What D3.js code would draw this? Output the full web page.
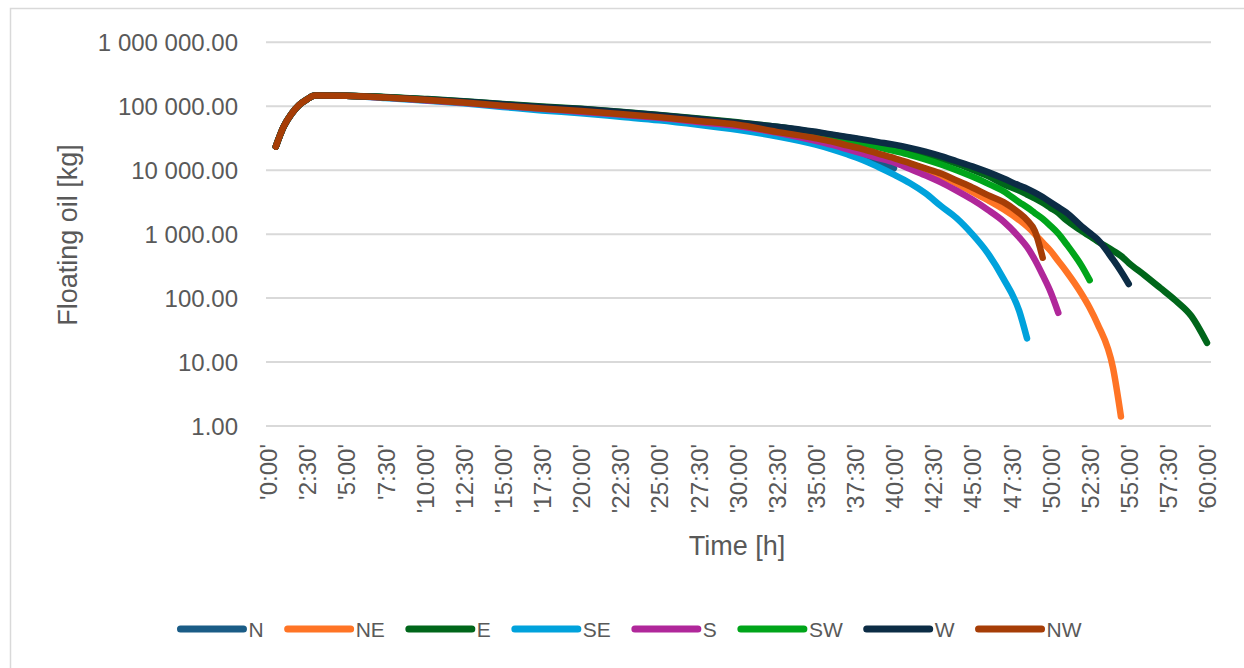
<!DOCTYPE html>
<html>
<head>
<meta charset="utf-8">
<script src="https://cdn.jsdelivr.net/npm/d3@7/dist/d3.min.js"></script>
<style>
  html, body { margin: 0; padding: 0; background: #ffffff; }
  svg { display: block; font-family: "Liberation Sans", Arial, sans-serif; }
</style>
</head>
<body>
<svg id="chart" width="1244" height="668"></svg>
<script>
// ---- DATA (time in hours, floating oil in kg) ----
const hours = [0.5, 1, 1.5, 2, 2.5, 3, 5, 7.5, 10, 12.5, 15, 17.5, 20, 22.5, 25, 27.5, 30, 32.5, 35, 36, 37, 38, 39, 40, 41, 42, 43, 44, 45, 46, 47, 48, 48.5, 49, 49.5, 50, 50.5, 51, 52, 52.5, 53, 54, 54.5, 55, 56, 57, 58, 59, 60];

const seriesNames = ["N", "NE", "E", "SE", "S", "SW", "W", "NW"];
const seriesColors = ["#1a5c86", "#ff7425", "#00661a", "#00a2dc", "#b0279a", "#00a51a", "#0c2c45", "#a63d06"];

const valN  = [23400, 47900, 75900, 104700, 128800, 147900, 146200, 138000, 127400, 116100, 104700, 94400, 86100, 77600, 69200, 60300, 52500, 43700, 34700, 30200, 23400, 17800, 13200, 10700,
  null, null, null, null, null, null, null, null, null, null, null, null, null, null, null, null, null, null, null, null, null, null, null, null, null];
const valNE = [23400, 47900, 75900, 104700, 128800, 147900, 146200, 136500, 125900, 114800, 102300, 92300, 83200, 75000, 66800, 58200, 50100, 38900, 30200, 26900, 23400, 20400, 17800, 15100,
  12600, 10200, 8130, 6170, 4570, 3390, 2450, 1660, 1320, 1000, 741, 550, 380, 263, 115, 70.8, 39.8, 7.94, 1.41, null, null, null, null, null, null];
const valE  = [23400, 47900, 75900, 104700, 128800, 147900, 146200, 139600, 130300, 120200, 108400, 98900, 91200, 82200, 73300, 64600, 56200, 47900, 38900, 35500, 32400, 29500, 26300, 23400,
  20400, 17800, 15100, 12600, 10200, 8130, 6030, 4790, 4170, 3630, 3090, 2570, 2140, 1660, 1120, 933, 776, 550, 457, 355, 229, 145, 91.2, 52.5, 20.0];
const valSE = [23400, 47900, 75900, 104700, 128800, 147900, 146200, 134900, 123000, 110900, 97700, 86100, 77600, 68400, 60300, 51300, 42700, 33900, 25100, 21400, 17800, 14500, 11200, 8510,
  6310, 4370, 2750, 1780, 1000, 501, 200, 63.1, 23.4, null, null, null, null, null, null, null, null, null, null, null, null, null, null, null, null];
const valS  = [23400, 47900, 75900, 104700, 128800, 147900, 146200, 136500, 124500, 113500, 101200, 91200, 82200, 74100, 66100, 56900, 49000, 38900, 28800, 25100, 21400, 18200, 15500, 13200,
  10500, 8320, 6460, 4790, 3470, 2400, 1580, 891, 631, 398, 229, 126, 58.9, null, null, null, null, null, null, null, null, null, null, null, null];
const valSW = [23400, 47900, 75900, 104700, 128800, 147900, 146200, 138000, 127400, 117500, 105900, 95500, 88100, 79400, 70800, 61700, 53700, 45700, 37200, 33100, 29500, 26300, 22900, 20000,
  17400, 14800, 12300, 10000, 7940, 6170, 4680, 3160, 2630, 2140, 1740, 1350, 1020, 708, 316, 191, null, null, null, null, null, null, null, null, null];
const valW  = [23400, 47900, 75900, 104700, 128800, 147900, 146200, 138000, 128800, 118900, 107200, 97700, 90200, 81300, 72400, 63100, 55000, 47900, 39800, 36300, 33100, 30200, 27500, 25100,
  22400, 19500, 16600, 13800, 11500, 9330, 7410, 5750, 5130, 4470, 3800, 3160, 2630, 2190, 1320, 1050, 832, 398, 263, 166, null, null, null, null, null];
const valNW = [23400, 47900, 75900, 104700, 128800, 147900, 146200, 136500, 125900, 114800, 102300, 92300, 84100, 75900, 67600, 58900, 51300, 39800, 31600, 28200, 24500, 21400, 18200, 15500,
  12900, 10700, 8900, 6900, 5370, 4070, 3160, 2140, 1660, 1120, 427, null, null, null, null, null, null, null, null, null, null, null, null, null, null];

const xTickHours = [0, 2.5, 5, 7.5, 10, 12.5, 15, 17.5, 20, 22.5, 25, 27.5, 30, 32.5, 35, 37.5, 40, 42.5, 45, 47.5, 50, 52.5, 55, 57.5, 60];
const xTickLabels = ["'0:00'", "'2:30'", "'5:00'", "'7:30'", "'10:00'", "'12:30'", "'15:00'", "'17:30'", "'20:00'", "'22:30'", "'25:00'", "'27:30'", "'30:00'", "'32:30'", "'35:00'", "'37:30'", "'40:00'", "'42:30'", "'45:00'", "'47:30'", "'50:00'", "'52:30'", "'55:00'", "'57:30'", "'60:00'"];
const yTickValues = [1, 10, 100, 1000, 10000, 100000, 1000000];

const allValues = [valN, valNE, valE, valSE, valS, valSW, valW, valNW];

// ---- DRAW ----
const svg = d3.select("#chart");
const textColor = "#595959";
const gridColor = "#d9d9d9";

svg.append("rect").attr("x", 0).attr("y", 0).attr("width", 1244).attr("height", 668).attr("fill", "#ffffff");
svg.append("rect").attr("x", 10.5).attr("y", 8.5).attr("width", 1260).attr("height", 680)
  .attr("fill", "none").attr("stroke", "#d9d9d9").attr("stroke-width", 1.5);

const x = d3.scaleLinear().domain([0, 60]).range([268, 1207]);
const y = d3.scaleLog().domain([1, 1000000]).range([426, 42.3]);

const fmt = v => d3.format(",.2f")(v).replace(/,/g, " ");

// gridlines
svg.append("g").selectAll("line").data(yTickValues).join("line")
  .attr("x1", 266).attr("x2", 1211)
  .attr("y1", d => y(d)).attr("y2", d => y(d))
  .attr("stroke", gridColor).attr("stroke-width", 2);

// y axis labels
const yAxis = d3.axisLeft(y).tickValues(yTickValues).tickFormat(fmt).tickSize(0).tickPadding(0);
const gy = svg.append("g").attr("transform", "translate(238,0)").call(yAxis);
gy.select(".domain").remove();
gy.selectAll("text").attr("fill", textColor).attr("font-size", 24)
  .attr("font-family", "'Liberation Sans', Arial, sans-serif").attr("dy", "0.36em");

// x axis labels rotated
const xAxis = d3.axisBottom(x).tickValues(xTickHours).tickFormat((d, i) => xTickLabels[i]).tickSize(0).tickPadding(0);
const gx = svg.append("g").attr("transform", "translate(0,444)").call(xAxis);
gx.select(".domain").remove();
gx.selectAll("text")
  .attr("fill", textColor).attr("font-size", 24)
  .attr("font-family", "'Liberation Sans', Arial, sans-serif")
  .attr("text-anchor", "end")
  .attr("transform", "rotate(-90)")
  .attr("x", 0).attr("y", 0).attr("dy", "0.36em");

// axis titles
svg.append("text").attr("x", 737).attr("y", 555).attr("text-anchor", "middle")
  .attr("fill", textColor).attr("font-size", 27).text("Time [h]");
svg.append("text").attr("transform", "translate(77,235) rotate(-90)").attr("text-anchor", "middle")
  .attr("fill", textColor).attr("font-size", 27).text("Floating oil [kg]");

// lines
const line = d3.line()
  .defined(d => d[1] != null)
  .x(d => x(d[0])).y(d => y(d[1]))
  .curve(d3.curveMonotoneX);

const gLines = svg.append("g");
allValues.forEach((vals, i) => {
  const pts = hours.map((h, j) => [h, vals[j]]);
  gLines.append("path").datum(pts)
    .attr("d", line)
    .attr("fill", "none")
    .attr("stroke", seriesColors[i])
    .attr("stroke-width", 6.5)
    .attr("stroke-linecap", "round")
    .attr("stroke-linejoin", "round");
});

// legend
const legend = svg.append("g");
let cx = 0;
const gap = 24;
seriesNames.forEach((name, i) => {
  const g = legend.append("g");
  g.append("line").attr("x1", 0).attr("x2", 63).attr("y1", 0).attr("y2", 0)
    .attr("stroke", seriesColors[i]).attr("stroke-width", 7).attr("stroke-linecap", "round");
  const t = g.append("text").attr("x", 68).attr("y", 0).attr("dy", "0.36em")
    .attr("fill", textColor).attr("font-size", 21).text(name);
  const w = 68 + t.node().getComputedTextLength();
  g.attr("transform", `translate(${cx},629)`);
  cx += w + gap;
});
const totalW = cx - gap;
legend.attr("transform", `translate(${631 - totalW / 2},0)`);
</script>
</body>
</html>
